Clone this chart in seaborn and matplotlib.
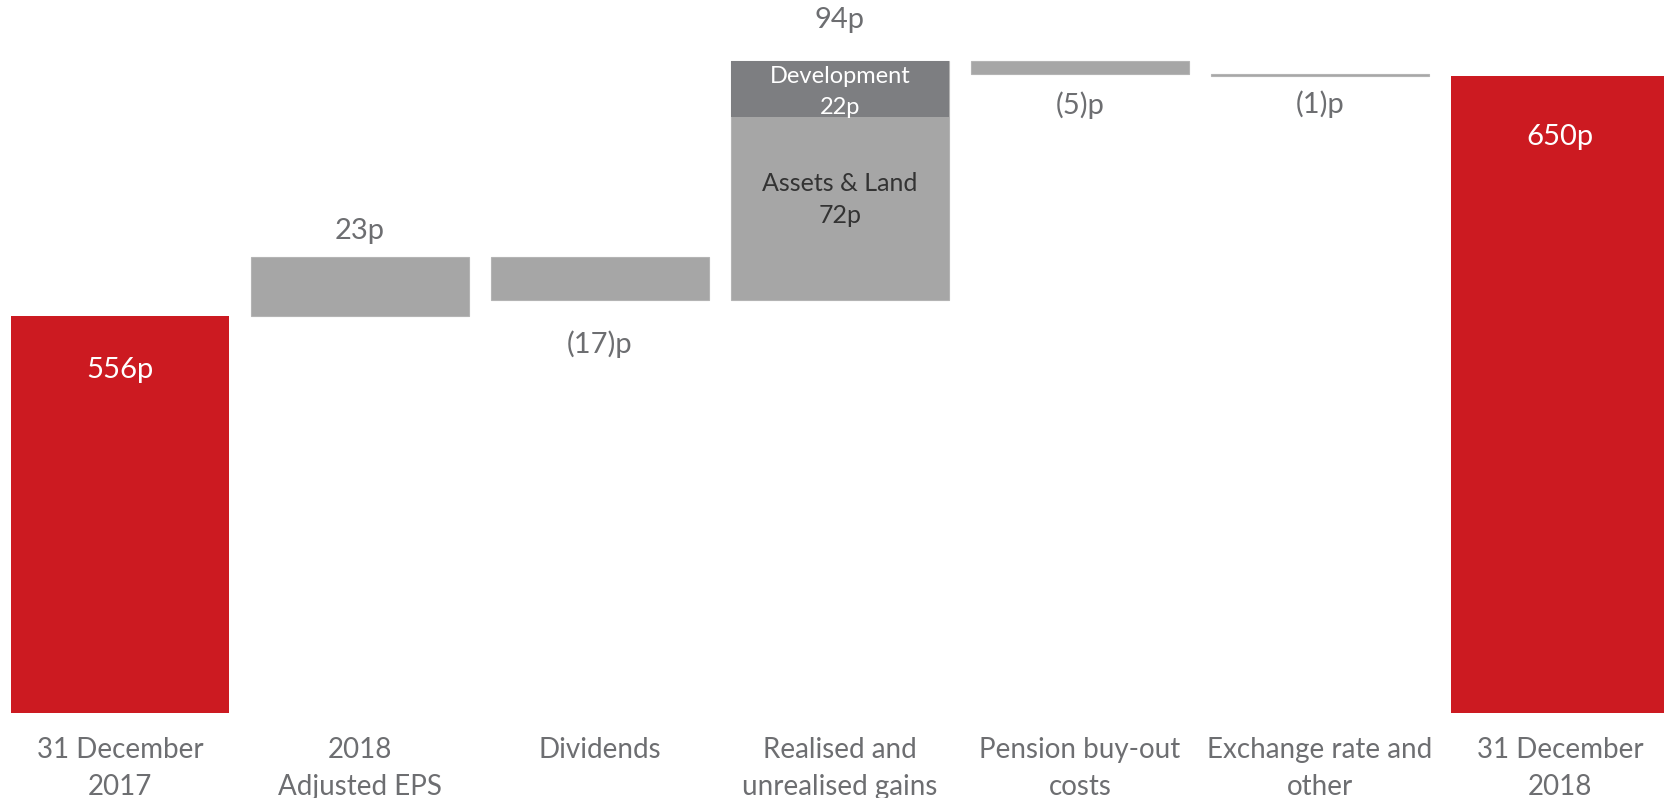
import matplotlib
matplotlib.use("Agg")
import matplotlib.pyplot as plt
import numpy as np
import pandas as pd
import seaborn as sns

# Net asset value per share bridge, pence
categories = ["31 December\n2017", "2018\nAdjusted EPS", "Dividends",
              "Realised and\nunrealised gains", "Pension buy-out\ncosts",
              "Exchange rate and\nother", "31 December\n2018"]
opening_nav = 556
movements = [23, -17, 94, -5, -1]
closing_nav = 650
gains_split_labels = ["Assets & Land", "Development"]
gains_split_values = [72, 22]

RED = "#CC1A21"
GREY = "#A6A6A6"
DARK_GREY = "#7C7E82"
TEXT = "#6D6E71"

sns.set_theme(style="white")
plt.rcParams["font.family"] = ["Lato", "DejaVu Sans"]


def fmt(v):
    return f"{v}p" if v >= 0 else f"({-v})p"


# running totals for the floating bars
levels = [opening_nav]
for m in movements:
    levels.append(levels[-1] + m)

heights = [opening_nav] + [abs(m) for m in movements] + [closing_nav]
bottoms = [0] + [min(levels[i], levels[i + 1]) for i in range(len(movements))] + [0]
colors = [RED] + [GREY] * len(movements) + [RED]

df = pd.DataFrame({"category": categories, "height": heights})

fig = plt.figure(figsize=(16.65, 7.98), dpi=100)
ax = fig.add_axes([0, 85 / 798, 1, 713 / 798])

sns.barplot(data=df, x="category", y="height", order=categories,
            bottom=np.array(bottoms), width=0.908, color=GREY,
            linewidth=0, ax=ax)
for patch, c in zip(ax.patches, colors):
    patch.set_facecolor(c)
    if c == GREY:
        patch.set_edgecolor("#B4B4B4")
        patch.set_linewidth(0.8)

# development slice on top of the gains bar
gains_idx = 3
gains_base = levels[2]
dev_df = pd.DataFrame({"category": [categories[gains_idx]],
                       "height": [gains_split_values[1]]})
sns.barplot(data=dev_df, x="category", y="height", order=categories,
            bottom=np.array([gains_base + gains_split_values[0]]),
            width=0.908, color=DARK_GREY, linewidth=0, ax=ax)

ax.set_xlim(-0.5, 6.4375)
ax.set_ylim(400, 680)
ax.set_xlabel("")
ax.set_ylabel("")
ax.set_yticks([])
for s in ax.spines.values():
    s.set_visible(False)
ax.tick_params(axis="x", length=0, pad=17.5, labelsize=20, labelcolor=TEXT)
for lbl in ax.get_xticklabels():
    lbl.set_linespacing(1.5)


def note(x, y, s, dy, size=21, color=TEXT):
    ax.annotate(s, xy=(x, y), xytext=(0, dy), textcoords="offset points",
                ha="center", va="center", fontsize=size, color=color)


# totals
note(0, opening_nav, f"{opening_nav}p", -38.9, size=21, color="white")
note(6, closing_nav, f"{closing_nav}p", -43.6, size=21, color="white")

# movements
offsets_up = {1: 19.0, 3: 29.8}
offsets_down = {2: -31.3, 4: -22.9, 5: -19.9}
for i, m in enumerate(movements, start=1):
    top = max(levels[i - 1], levels[i])
    bot = min(levels[i - 1], levels[i])
    if m >= 0:
        note(i, top, fmt(m), offsets_up[i])
    else:
        note(i, bot, fmt(m), offsets_down[i])

# gains split labels
gains_top = levels[3]
dev_bottom = gains_base + gains_split_values[0]
note(gains_idx, gains_top, gains_split_labels[1], -10.8, size=17, color="white")
note(gains_idx, gains_top, fmt(gains_split_values[1]), -33.6, size=17, color="white")
note(gains_idx, dev_bottom, gains_split_labels[0], -48.0, size=18, color="#333333")
note(gains_idx, dev_bottom, fmt(gains_split_values[0]), -71.0, size=18, color="#333333")

fig.savefig("out.png", dpi=100)
